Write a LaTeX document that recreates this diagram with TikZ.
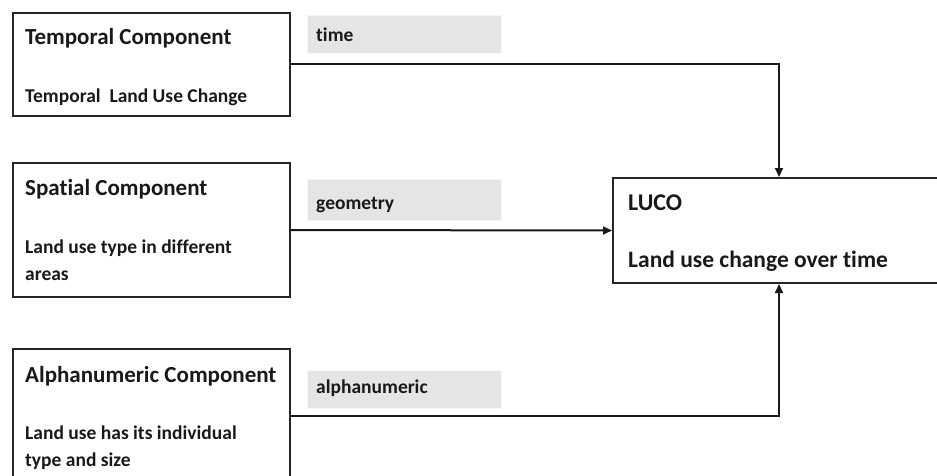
\documentclass[tikz,border=0pt]{standalone}
\usepackage{fontspec}
\setmainfont{Carlito}[Ligatures={NoCommon}]
\usetikzlibrary{arrows.meta}
\begin{document}
\begin{tikzpicture}[x=1pt,y=-1pt,
  box/.style={draw=black!85,line width=2pt,rectangle,inner sep=0pt},
  tag/.style={fill=black!10,draw=black!4,line width=0.8pt,rectangle,inner sep=0pt},
  ttl/.style={anchor=base west,inner sep=0pt,font=\bfseries\fontsize{23}{27}\selectfont,text=black!90},
  body/.style={anchor=base west,inner sep=0pt,font=\bfseries\fontsize{19.5}{27}\selectfont,text=black!90},
  lbl/.style={anchor=base west,inner sep=0pt,font=\bfseries\fontsize{19.5}{24}\selectfont,text=black!90},
  arr/.style={line width=2pt,draw=black!90,-{Triangle[length=9pt,width=8pt]}}]
\useasboundingbox (0,0) rectangle (937,476);
\clip (0,0) rectangle (937,476);
% boxes
\node[box,minimum width=277pt,minimum height=103pt] (temp) at (151.5,64.5) {};
\node[box,minimum width=277pt,minimum height=134pt] (spat) at (151.5,230) {};
\node[box,minimum width=277pt,minimum height=134pt] (alph) at (151.5,416) {};
\node[box,minimum width=332pt,minimum height=105pt] (luco) at (779,230.5) {};
% label tags
\node[tag,minimum width=194pt,minimum height=38pt] (ttime) at (404.5,34) {};
\node[tag,minimum width=194pt,minimum height=41pt] (tgeo) at (404.5,199.5) {};
\node[tag,minimum width=194pt,minimum height=38pt] (talph) at (404.5,389) {};
% texts
\node[ttl] (temptitle) at (25,45) {Temporal Component};
\node[body] (tempbody) at (25,103) {Temporal\ \ Land Use Change};
\node[ttl] (spattitle) at (25,195) {Spatial Component};
\node[body] (spatb1) at (25,253) {Land use type in different};
\node[body] (spatb2) at (25,280) {areas};
\node[ttl] (alphtitle) at (25,382) {Alphanumeric Component};
\node[body] (alphb1) at (25,439) {Land use has its individual};
\node[body] (alphb2) at (25,466) {type and size};
\node[ttl,font=\bfseries\fontsize{24}{28}\selectfont] (lucotitle) at (628,210) {LUCO};
\node[body,font=\bfseries\fontsize{23.5}{27}\selectfont] (lucobody) at (628,267) {Land use change over time};
\node[lbl] (ltime) at (316,42) {time};
\node[lbl] (lgeo) at (316,209) {geometry};
\node[lbl] (lalph) at (316,393) {alphanumeric};
% connectors
\draw[arr] (temp.east) -| (luco.north);
\draw[arr] (spat.east) -- (luco.west);
\draw[arr] (alph.east) -| (luco.south);
\end{tikzpicture}
\end{document}
